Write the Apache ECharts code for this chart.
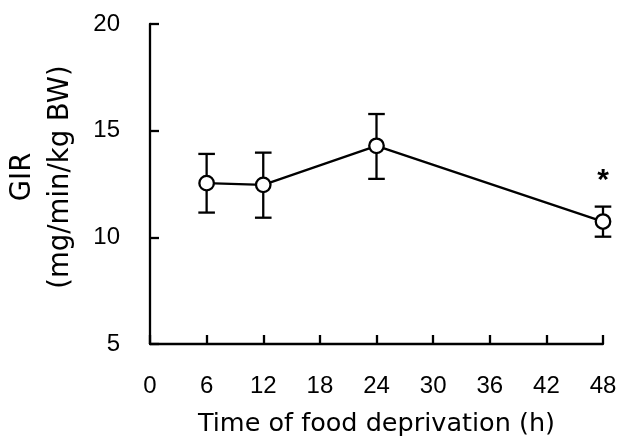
<!DOCTYPE html>
<html>
<head>
<meta charset="utf-8">
<script src="https://cdn.jsdelivr.net/npm/echarts@6/dist/echarts.min.js"></script>
<style>
html,body{margin:0;padding:0;background:#fff;}
#chart{width:618px;height:439px;}
</style>
</head>
<body>
<div id="chart"></div>
<script>
// Data
var hours = [6, 12, 24, 48];
var girMean = [12.54, 12.46, 14.29, 10.74];
var girUpper = [13.91, 13.97, 15.78, 11.44];
var girLower = [11.16, 10.92, 12.74, 10.03];
var sigMarks = ['', '', '', '*'];
var xTicks = [0, 6, 12, 18, 24, 30, 36, 42, 48];
var yTicks = [5, 10, 15, 20];

var chart = echarts.init(document.getElementById('chart'));

var meanData = hours.map(function (h, i) {
  return {
    value: [h, girMean[i]],
    label: {
      show: sigMarks[i] !== '',
      formatter: sigMarks[i],
      position: 'top',
      distance: 17,
      fontSize: 30,
      fontWeight: 'bold',
      fontFamily: 'Liberation Sans',
      color: '#000'
    }
  };
});
var errData = hours.map(function (h, i) { return [h, girLower[i], girUpper[i]]; });

var option = {
  backgroundColor: '#fff',
  animation: false,
  grid: { left: 150, right: 15, top: 24, bottom: 95, containLabel: false, outerBoundsMode: 'none' },
  xAxis: {
    type: 'value',
    min: xTicks[0],
    max: xTicks[xTicks.length - 1],
    interval: 6,
    name: 'Time of food deprivation (h)',
    nameLocation: 'middle',
    nameGap: 67,
    nameTextStyle: { fontSize: 25.5, fontFamily: 'DejaVu Sans', color: '#000' },
    axisLine: { show: true, onZero: false, lineStyle: { color: '#000', width: 2.3 } },
    axisTick: { show: true, inside: true, length: 9, lineStyle: { color: '#000', width: 2.3 } },
    axisLabel: { fontSize: 24, fontFamily: 'Liberation Sans', color: '#000', margin: 30 },
    splitLine: { show: false }
  },
  yAxis: {
    type: 'value',
    min: yTicks[0],
    max: yTicks[yTicks.length - 1],
    interval: 5,
    name: 'GIR\n(mg/min/kg BW)',
    nameLocation: 'middle',
    nameGap: 70,
    nameTextStyle: { fontSize: 27.5, fontFamily: 'DejaVu Sans', color: '#000', lineHeight: 38, align: 'center', padding: [0, 0, 0, 14] },
    axisLine: { show: true, onZero: false, lineStyle: { color: '#000', width: 2.3 } },
    axisTick: { show: true, inside: true, length: 9, lineStyle: { color: '#000', width: 2.3 } },
    axisLabel: { fontSize: 24, fontFamily: 'Liberation Sans', color: '#000', margin: 30 },
    splitLine: { show: false }
  },
  series: [
    {
      type: 'custom',
      z: 1,
      data: errData,
      renderItem: function (params, api) {
        var x = api.value(0);
        var lo = api.coord([x, api.value(1)]);
        var hi = api.coord([x, api.value(2)]);
        var hw = 8.3;
        var st = { stroke: '#000', lineWidth: 2.3 };
        return {
          type: 'group',
          children: [
            { type: 'line', shape: { x1: lo[0], y1: lo[1], x2: hi[0], y2: hi[1] }, style: st },
            { type: 'line', shape: { x1: lo[0] - hw, y1: lo[1], x2: lo[0] + hw, y2: lo[1] }, style: st },
            { type: 'line', shape: { x1: hi[0] - hw, y1: hi[1], x2: hi[0] + hw, y2: hi[1] }, style: st }
          ]
        };
      }
    },
    {
      type: 'line',
      z: 3,
      data: meanData,
      symbol: 'circle',
      symbolSize: 14.5,
      lineStyle: { color: '#000', width: 2.3 },
      itemStyle: { color: '#fff', borderColor: '#000', borderWidth: 2.3 },
      emphasis: { disabled: true }
    }
  ]
};
chart.setOption(option);
</script>
</body>
</html>
